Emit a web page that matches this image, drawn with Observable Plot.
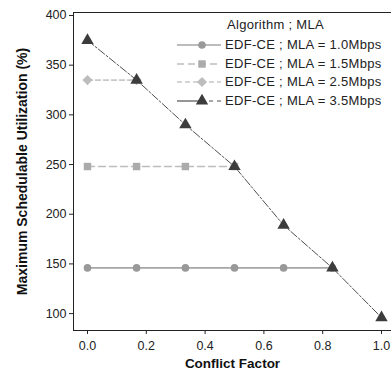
<!DOCTYPE html>
<html>
<head>
<meta charset="utf-8">
<script src="https://cdn.jsdelivr.net/npm/d3@7"></script>
<script src="https://cdn.jsdelivr.net/npm/@observablehq/plot@0.6"></script>
<style>
  html, body { margin: 0; padding: 0; background: #fff; }
  #wrap { position: relative; width: 391px; height: 373px; font-family: "Liberation Sans", Arial, sans-serif; }
  #legend { position: absolute; left: 175px; top: 17px; font-size: 13px; letter-spacing: 0.3px; color: #222; }
  #legend .title { position: absolute; left: 52px; top: 0px; white-space: nowrap; }
  #legend .row { position: absolute; left: 0; white-space: nowrap; height: 18px; }
  #legend .row svg { position: absolute; left: 0; top: 0; }
  #legend .row span { position: absolute; left: 50px; top: 1px; }
</style>
</head>
<body>
<div id="wrap"><div id="legend"></div></div>
<script>
const conflictFactor = [0.0, 0.167, 0.333, 0.5, 0.667, 0.833, 1.0];
const mla10 = [146, 146, 146, 146, 146, 146];
const mla15 = [248, 248, 248, 248];
const mla25 = [335, 335];
const mla35 = [375, 335, 290, 248, 189, 146, 96];
const seriesNames = ["EDF-CE ; MLA = 1.0Mbps", "EDF-CE ; MLA = 1.5Mbps", "EDF-CE ; MLA = 2.5Mbps", "EDF-CE ; MLA = 3.5Mbps"];
const legendTitle = "Algorithm ; MLA";
const xTicks = [0, 0.2, 0.4, 0.6, 0.8, 1.0];
const yTicks = [100, 150, 200, 250, 300, 350, 400];
const xDomain = [-0.0476, 1.034];
const yDomain = [83, 403];

const styles = [
  {stroke: "#a6a6a6", fill: "#999999", dash: null, symbol: "circle", r: 3.8},
  {stroke: "#bdbdbd", fill: "#ababab", dash: "7,4", symbol: "square", r: 4.2},
  {stroke: "#c8c8c8", fill: "#bdbdbd", dash: "5,3", symbol: "diamond2", r: 4.6},
  {stroke: "#505050", fill: "#3c3c3c", dash: "8,2,2,2", symbol: "triangle", r: 4.6}
];
const allValues = [mla10, mla15, mla25, mla35];
const series = allValues.map((vals, i) => vals.map((v, j) => ({x: conflictFactor[j], y: v, s: i})));

const marks = [];
series.forEach((d, i) => {
  const st = styles[i];
  marks.push(Plot.line(d, {x: "x", y: "y", stroke: st.stroke, strokeWidth: i === 3 ? 1 : 1.6, strokeDasharray: st.dash}));
});
series.forEach((d, i) => {
  const st = styles[i];
  marks.push(Plot.dot(d, {x: "x", y: "y", symbol: () => st.symbol, r: st.r, fill: st.fill, stroke: "none"}));
});

const chart = Plot.plot({
  width: 391,
  height: 373,
  marginLeft: 73,
  marginRight: 0,
  marginTop: 12,
  marginBottom: 43,
  style: {fontFamily: "Liberation Sans, Arial, sans-serif", fontSize: "12.5px", color: "#222", background: "#fff"},
  symbol: {type: "identity"},
  x: {domain: xDomain, ticks: xTicks, tickFormat: d3.format(".1f"), tickSize: 4, tickPadding: 7, line: true, label: null},
  y: {domain: yDomain, ticks: yTicks, tickSize: 4, tickPadding: 3, line: true, label: null},
  marks: [
    Plot.ruleY([yDomain[1]], {stroke: "#222"}),
    ...marks,
    Plot.text(["Maximum Schedulable Utilization (%)"], {frameAnchor: "left", textAnchor: "middle", dx: -51, rotate: -90, fontWeight: "bold", fontSize: 14, fill: "#111"}),
    Plot.text(["Conflict Factor"], {frameAnchor: "bottom", textAnchor: "middle", dy: 37, fontWeight: "bold", fontSize: 13.5, fill: "#111"})
  ]
});
document.getElementById("wrap").prepend(chart);
chart.style.position = "absolute";
chart.style.left = "0"; chart.style.top = "0";

// legend
const lg = document.getElementById("legend");
const t = document.createElement("div"); t.className = "title"; t.textContent = legendTitle; lg.appendChild(t);
const rowTops = [19, 38, 56, 75];
seriesNames.forEach((name, i) => {
  const st = styles[i];
  const row = document.createElement("div"); row.className = "row"; row.style.top = rowTops[i] + "px";
  const svg = d3.create("svg").attr("width", 48).attr("height", 18);
  if (i === 3) {
    svg.append("line").attr("x1", 2).attr("x2", 26).attr("y1", 9).attr("y2", 9).attr("stroke", st.stroke).attr("stroke-width", 1.2);
    svg.append("line").attr("x1", 26).attr("x2", 46).attr("y1", 9).attr("y2", 9).attr("stroke", st.stroke).attr("stroke-width", 1.2).attr("stroke-dasharray", "4,4");
  } else {
    svg.append("line").attr("x1", 2).attr("x2", 46).attr("y1", 9).attr("y2", 9).attr("stroke", st.stroke).attr("stroke-width", 1.6).attr("stroke-dasharray", st.dash);
  }
  const symMap = {circle: d3.symbolCircle, square: d3.symbolSquare, diamond2: d3.symbolDiamond2, triangle: d3.symbolTriangle};
  svg.append("path").attr("transform", "translate(27,9)").attr("d", d3.symbol(symMap[st.symbol], Math.PI * st.r * st.r)()).attr("fill", st.fill);
  row.appendChild(svg.node());
  const sp = document.createElement("span"); sp.textContent = name; row.appendChild(sp);
  lg.appendChild(row);
});
</script>
</body>
</html>
